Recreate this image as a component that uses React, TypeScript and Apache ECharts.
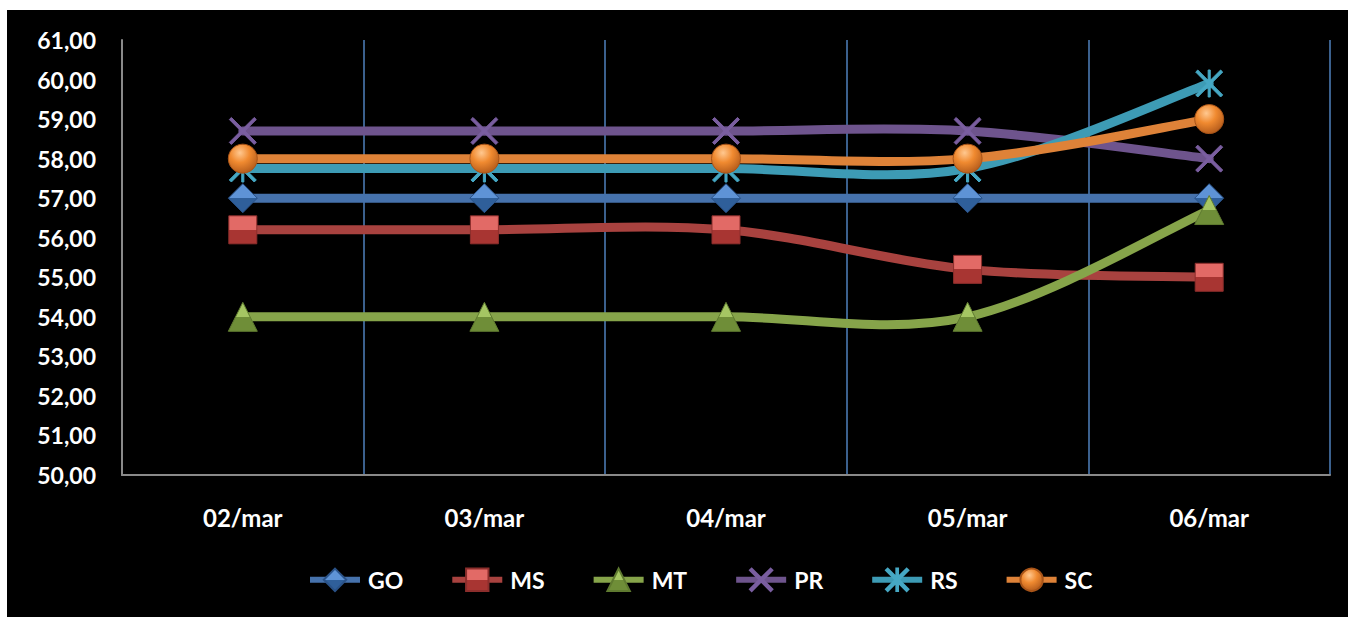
import { useEffect, useRef } from "react";
import * as echarts from "echarts";

// Daily prices by state (R$), 02/mar to 06/mar
const categories = ["02/mar", "03/mar", "04/mar", "05/mar", "06/mar"];
const goValues = [57.0, 57.0, 57.0, 57.0, 57.0];
const msValues = [56.2, 56.2, 56.2, 55.2, 55.0];
const mtValues = [54.0, 54.0, 54.0, 54.0, 56.7];
const prValues = [58.7, 58.7, 58.7, 58.7, 58.0];
const rsValues = [57.75, 57.75, 57.75, 57.75, 59.9];
const scValues = [58.0, 58.0, 58.0, 58.0, 59.0];
const yMin = 50;
const yMax = 61;
const yStep = 1;

const FONT = "Lato, 'Noto Sans', sans-serif";
const LINE_WIDTH = 9;

// Marker shapes drawn as filled outlines
const crossPath = "path://M0,2 L2,0 L26,24 L24,26 Z M24,0 L26,2 L2,26 L0,24 Z";
const starPath =
  "path://M0,2 L2,0 L26,24 L24,26 Z M24,0 L26,2 L2,26 L0,24 Z M12,0 L14,0 L14,26 L12,26 Z";

const vGrad = (top: string, bottom: string) =>
  new echarts.graphic.LinearGradient(0, 0, 0, 1, [
    { offset: 0, color: top },
    { offset: 0.5, color: top },
    { offset: 0.5, color: bottom },
    { offset: 1, color: bottom },
  ]);

const sphere = new echarts.graphic.RadialGradient(0.4, 0.3, 0.75, [
  { offset: 0, color: "#FFC890" },
  { offset: 0.45, color: "#F08A30" },
  { offset: 1, color: "#B0581A" },
]);

type State = {
  name: string;
  values: number[];
  line: string;
  symbol: string;
  size: number;
  fill: any;
  border: string;
};

const states: State[] = [
  { name: "GO", values: goValues, line: "#4672AC", symbol: "diamond", size: 29, fill: vGrad("#5E93D6", "#2F5F9A"), border: "#2A5288" },
  { name: "MS", values: msValues, line: "#A8423F", symbol: "rect", size: 28, fill: vGrad("#E26A66", "#A83532"), border: "#8C2E2C" },
  { name: "MT", values: mtValues, line: "#86A44A", symbol: "triangle", size: 29, fill: vGrad("#A5C663", "#6F8E38"), border: "#5F7A30" },
  { name: "PR", values: prValues, line: "#6E548D", symbol: crossPath, size: 27, fill: "#7A5EA0", border: "#7A5EA0" },
  { name: "RS", values: rsValues, line: "#3D9BB5", symbol: starPath, size: 27, fill: "#46A8C4", border: "#46A8C4" },
  { name: "SC", values: scValues, line: "#DE8238", symbol: "circle", size: 29, fill: sphere, border: "#A85418" },
];

// Smooth curve through the points (cardinal spline, tension 1/6), one bezier per gap
function curveSeries(s: State) {
  const vals = s.values;
  return {
    name: s.name + " curve",
    type: "custom",
    silent: true,
    data: vals.map((v, i) => [i, v]),
    renderItem: (params: any, api: any) => {
      const i = params.dataIndex;
      if (i >= vals.length - 1) return null;
      const p = (k: number) => {
        const j = Math.max(0, Math.min(vals.length - 1, k));
        return api.coord([j, vals[j]]);
      };
      const p0 = p(i - 1);
      const p1 = p(i);
      const p2 = p(i + 1);
      const p3 = p(i + 2);
      return {
        type: "bezierCurve",
        shape: {
          x1: p1[0],
          y1: p1[1],
          x2: p2[0],
          y2: p2[1],
          cpx1: p1[0] + (p2[0] - p0[0]) / 6,
          cpy1: p1[1] + (p2[1] - p0[1]) / 6,
          cpx2: p2[0] - (p3[0] - p1[0]) / 6,
          cpy2: p2[1] - (p3[1] - p1[1]) / 6,
        },
        style: { stroke: s.line, lineWidth: LINE_WIDTH, fill: null, lineCap: "round" },
      };
    },
  };
}

function markerSeries(s: State) {
  return {
    name: s.name,
    type: "line",
    data: s.values,
    symbol: s.symbol,
    symbolSize: s.size,
    showSymbol: true,
    lineStyle: { color: s.line, width: LINE_WIDTH, opacity: 0 },
    itemStyle: { color: s.fill, borderColor: s.border, borderWidth: 1 },
    emphasis: { disabled: true },
  };
}

export default function App() {
  const ref = useRef<HTMLDivElement>(null);

  useEffect(() => {
    if (!ref.current) return;
    const chart = echarts.init(ref.current, null, { renderer: "svg" });
    const series: any[] = [];
    states.forEach((s) => {
      series.push(curveSeries(s));
      series.push(markerSeries(s));
    });
    chart.setOption({
      animation: false,
      backgroundColor: "#000000",
      grid: { left: 115, right: 18, top: 30, bottom: 142 },
      legend: {
        bottom: 20,
        left: 295,
        itemWidth: 50,
        itemHeight: 28,
        itemGap: 46,
        data: states.map((s) => s.name),
        lineStyle: { opacity: 1, width: 6 },
        textStyle: {
          color: "#FFFFFF",
          fontFamily: FONT,
          fontWeight: "bold",
          fontSize: 23,
          width: 40,
          padding: [0, 0, 0, 3],
        },
      },
      xAxis: {
        type: "category",
        data: categories,
        boundaryGap: true,
        axisLine: { show: true, lineStyle: { color: "#8A8A8A", width: 2 } },
        axisTick: { show: false },
        axisLabel: {
          color: "#FFFFFF",
          fontFamily: FONT,
          fontWeight: "bold",
          fontSize: 24,
          margin: 30,
        },
        splitLine: { show: true, lineStyle: { color: "#4F81BD", width: 1.5 } },
      },
      yAxis: {
        type: "value",
        min: yMin,
        max: yMax,
        interval: yStep,
        axisLine: { show: true, lineStyle: { color: "#8A8A8A", width: 2 } },
        axisTick: { show: false },
        splitLine: { show: false },
        axisLabel: {
          color: "#FFFFFF",
          fontFamily: FONT,
          fontWeight: "bold",
          fontSize: 23,
          margin: 26,
          formatter: (v: number) => v.toFixed(2).replace(".", ","),
        },
      },
      series,
    });
    return () => chart.dispose();
  }, []);

  return (
    <div
      ref={ref}
      style={{ position: "absolute", left: 7, top: 10, width: 1341, height: 607 }}
    />
  );
}
